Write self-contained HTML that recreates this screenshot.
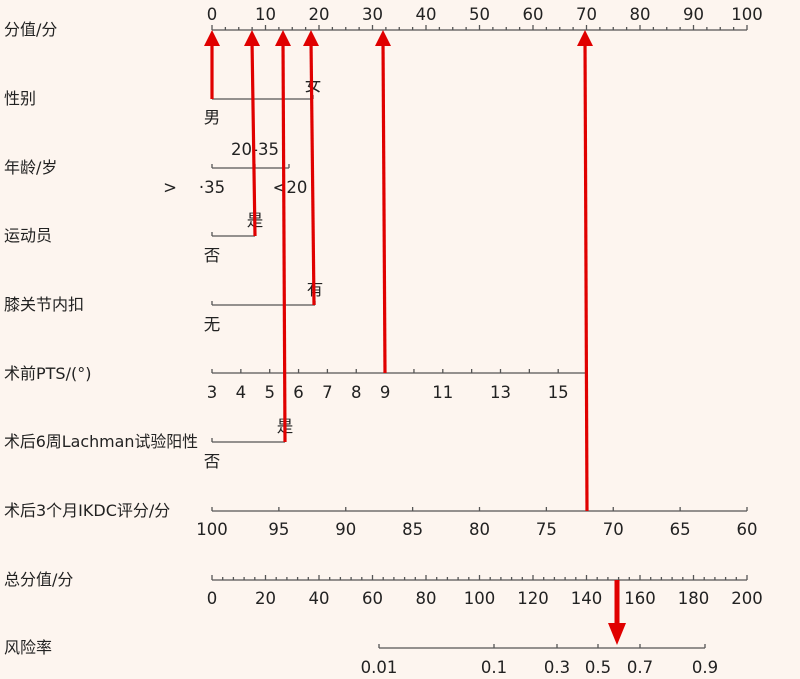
<!DOCTYPE html>
<html><head><meta charset="utf-8"><style>
html,body{margin:0;padding:0;background:#fdf5ef;}
svg{display:block;font-family:"DejaVu Sans","Noto Sans CJK SC",sans-serif;}
.t{font-size:16.5px;fill:#222;}
.l{font-size:16px;fill:#222;}
.ax{stroke:#555;stroke-width:1.3;fill:none;}
.ar{stroke:#e00000;stroke-width:3.2;fill:none;}
</style></head><body>
<svg width="800" height="679" viewBox="0 0 800 679">
<rect width="800" height="679" fill="#fdf5ef"/>
<g class="l">
<text x="4" y="35">分值/分</text>
<text x="4" y="104">性别</text>
<text x="4" y="173">年龄/岁</text>
<text x="4" y="241">运动员</text>
<text x="4" y="310">膝关节内扣</text>
<text x="4" y="379">术前PTS/(°)</text>
<text x="4" y="447" textLength="194" lengthAdjust="spacingAndGlyphs">术后6周Lachman试验阳性</text>
<text x="4" y="516">术后3个月IKDC评分/分</text>
<text x="4" y="585">总分值/分</text>
<text x="4" y="653">风险率</text>
</g>
<g id="axes" class="ax">
<path d="M212 30H747"/>
<path d="M212 99H313M212 99v-4M313 99v-4"/>
<path d="M212 168H289M212 168v-4M289 168v-4M255 168v-4"/>
<path d="M212 236H255M212 236v-4M255 236v-4"/>
<path d="M212 305H315M212 305v-4M315 305v-4"/>
<path d="M212 373H587"/>
<path d="M212 511H747"/>
<path d="M212 442H285M212 442v-4M285 442v-4"/>
<path d="M212 580H747"/>
<path d="M379 648H705M379 648v-4M494 648v-4M557 648v-4M598 648v-4M640 648v-4M705 648v-4"/>
</g>
<g id="ticks" class="ax"></g>
<g class="t" text-anchor="middle" id="labels">
<text x="212" y="123">男</text><text x="313" y="91">女</text>
<text x="255" y="155">20-35</text>
<text x="170" y="193">&gt;</text><text x="212" y="193">·35</text><text x="290" y="193">&lt;20</text>
<text x="212" y="261">否</text><text x="255" y="226">是</text>
<text x="212" y="330">无</text><text x="315" y="295">有</text>
<text x="212" y="467">否</text><text x="285" y="432">是</text>
<text x="379" y="673">0.01</text><text x="494" y="673">0.1</text><text x="557" y="673">0.3</text><text x="598" y="673">0.5</text><text x="640" y="673">0.7</text><text x="705" y="673">0.9</text>
</g>
<g fill="#e00000" stroke="none">
<path class="ar" d="M212 99V40"/><path d="M212 30l-8 16h16z"/>
<path class="ar" d="M255 236L252 40"/><path d="M252 30l-8 16h16z"/>
<path class="ar" d="M285 442L283 40"/><path d="M283 30l-8 16h16z"/>
<path class="ar" d="M314 305L311 40"/><path d="M311 30l-8 16h16z"/>
<path class="ar" d="M385 373L383 40"/><path d="M383 30l-8 16h16z"/>
<path class="ar" d="M587 511L585 40"/><path d="M585 30l-8 16h16z"/>
<path d="M617 580V625" stroke="#e00000" stroke-width="5"/><path d="M617 645l-9 -22h18z"/>
</g>
<script>
var ns="http://www.w3.org/2000/svg",tk=document.getElementById("ticks"),lb=document.getElementById("labels");
function ln(x,y1,y2){var p=document.createElementNS(ns,"path");p.setAttribute("d","M"+x+" "+y1+"V"+y2);tk.appendChild(p);}
function tx(x,y,s){var t=document.createElementNS(ns,"text");t.setAttribute("x",x);t.setAttribute("y",y);t.textContent=s;lb.appendChild(t);}
for(var i=0;i<=40;i++){var x=212+i*535/40;ln(x,30,i%4==0?25:27);if(i%4==0)tx(x,20,i*2.5);}
for(var v=3;v<=16;v++){var x=212+(v-3)*28.85;ln(x,373,369);if(v<=9||v==11||v==13||v==15)tx(x,398,v);}
for(var i=0;i<=8;i++){var x=212+i*535/8;ln(x,511,507);tx(x,535,100-i*5);}
for(var i=0;i<=50;i++){var x=212+i*535/50;ln(x,580,i%5==0?575:577);if(i%5==0)tx(x,604,i*4);}
</script>
</svg>
</body></html>
